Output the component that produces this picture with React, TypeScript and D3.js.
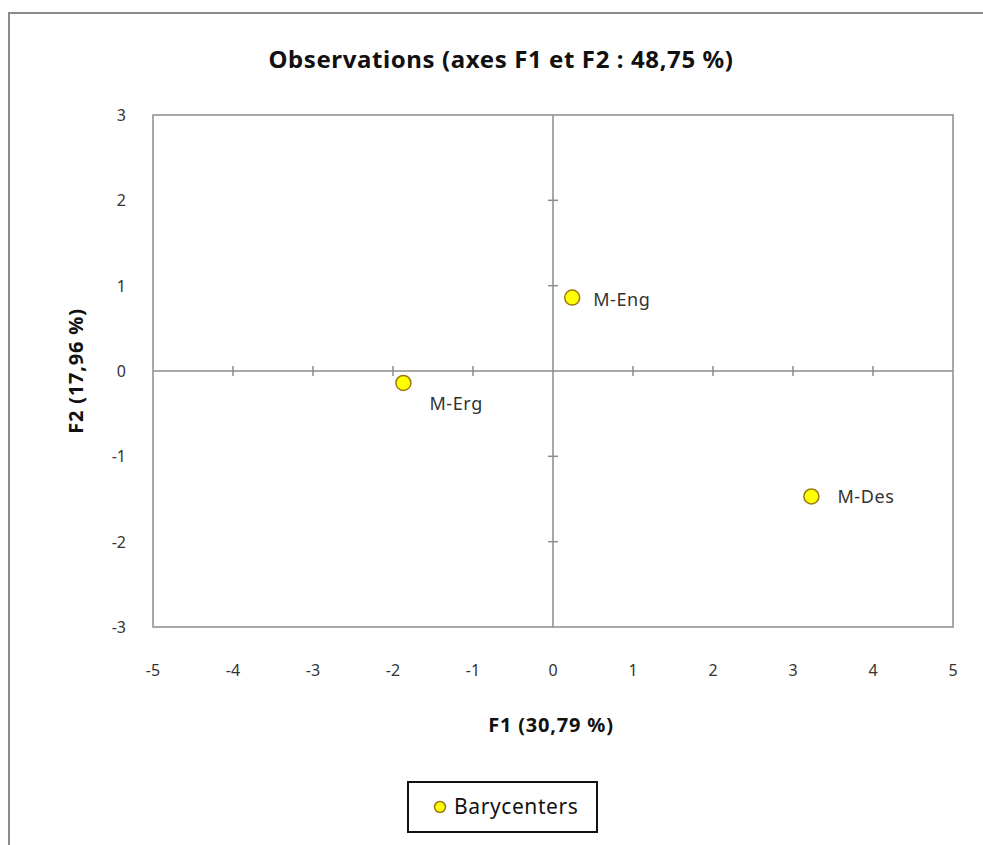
import React, { useEffect, useRef } from "react";
import * as d3 from "d3";

// observation barycenters on the first two factorial axes
const labels = ["M-Eng", "M-Erg", "M-Des"];
const f1Values = [0.24, -1.87, 3.23];
const f2Values = [0.86, -0.14, -1.47];
const xTicks = [-5, -4, -3, -2, -1, 0, 1, 2, 3, 4, 5];
const yTicks = [-3, -2, -1, 0, 1, 2, 3];

const labelOffsets = [
  { dx: 21, dy: 2 },
  { dx: 26, dy: 21 },
  { dx: 26, dy: 1 },
];

const App = () => {
  const svgRef = useRef<SVGSVGElement>(null);

  useEffect(() => {
    const width = 983;
    const height = 845;
    const font = "'Noto Sans', 'Open Sans', sans-serif";

    const svg = d3.select(svgRef.current);
    svg.selectAll("*").remove();

    const x = d3.scaleLinear().domain([-5, 5]).range([153, 953]);
    const y = d3.scaleLinear().domain([-3, 3]).range([627, 115]);

    svg.append("rect")
      .attr("width", width)
      .attr("height", height)
      .attr("fill", "#fff");

    // outer chart frame
    svg.append("rect")
      .attr("x", 9)
      .attr("y", 13)
      .attr("width", width + 20)
      .attr("height", height + 20)
      .attr("fill", "none")
      .attr("stroke", "#8c8c8c")
      .attr("stroke-width", 2);

    svg.append("text")
      .attr("x", 501)
      .attr("y", 68)
      .attr("text-anchor", "middle")
      .style("font", `bold 24px ${font}`)
      .style("letter-spacing", "0.6px")
      .attr("fill", "#111")
      .text("Observations (axes F1 et F2 : 48,75 %)");

    // plot area
    svg.append("rect")
      .attr("x", x(-5))
      .attr("y", y(3))
      .attr("width", x(5) - x(-5))
      .attr("height", y(-3) - y(3))
      .attr("fill", "none")
      .attr("stroke", "#8c8c8c")
      .attr("stroke-width", 1.5);

    // zero axes with crossing ticks
    const axisColor = "#8c8c8c";
    svg.append("line")
      .attr("x1", x(-5)).attr("x2", x(5))
      .attr("y1", y(0)).attr("y2", y(0))
      .attr("stroke", axisColor).attr("stroke-width", 1.5);
    svg.append("line")
      .attr("x1", x(0)).attr("x2", x(0))
      .attr("y1", y(3)).attr("y2", y(-3))
      .attr("stroke", axisColor).attr("stroke-width", 1.5);

    svg.selectAll(".xtick")
      .data(xTicks.filter(d => d !== 0 && Math.abs(d) !== 5))
      .enter().append("line")
      .attr("x1", d => x(d)).attr("x2", d => x(d))
      .attr("y1", y(0) - 5).attr("y2", y(0) + 5)
      .attr("stroke", axisColor).attr("stroke-width", 1.5);

    svg.selectAll(".ytick")
      .data(yTicks.filter(d => d !== 0 && Math.abs(d) !== 3))
      .enter().append("line")
      .attr("x1", x(0) - 5).attr("x2", x(0) + 5)
      .attr("y1", d => y(d)).attr("y2", d => y(d))
      .attr("stroke", axisColor).attr("stroke-width", 1.5);

    svg.selectAll(".xlabel")
      .data(xTicks)
      .enter().append("text")
      .attr("x", d => x(d))
      .attr("y", 676)
      .attr("text-anchor", "middle")
      .style("font", `16px ${font}`)
      .attr("fill", "#333")
      .text(d => d);

    svg.selectAll(".ylabel")
      .data(yTicks)
      .enter().append("text")
      .attr("x", 126)
      .attr("y", d => y(d) + 6)
      .attr("text-anchor", "end")
      .style("font", `16px ${font}`)
      .attr("fill", "#333")
      .text(d => d);

    svg.append("text")
      .attr("x", 551)
      .attr("y", 732)
      .attr("text-anchor", "middle")
      .style("font", `bold 20px ${font}`)
      .style("letter-spacing", "0.8px")
      .attr("fill", "#111")
      .text("F1 (30,79 %)");

    svg.append("text")
      .attr("transform", `translate(83,${y(0)}) rotate(-90)`)
      .attr("text-anchor", "middle")
      .style("font", `bold 20px ${font}`)
      .style("letter-spacing", "0.8px")
      .attr("fill", "#111")
      .text("F2 (17,96 %)");

    const points = labels.map((name, i) => ({ name, f1: f1Values[i], f2: f2Values[i], off: labelOffsets[i] }));

    svg.selectAll(".pt")
      .data(points)
      .enter().append("circle")
      .attr("cx", d => x(d.f1))
      .attr("cy", d => y(d.f2))
      .attr("r", 7.5)
      .attr("fill", "#ffff00")
      .attr("stroke", "#9c7a12")
      .attr("stroke-width", 1.5);

    svg.selectAll(".ptlabel")
      .data(points)
      .enter().append("text")
      .attr("x", d => x(d.f1) + d.off.dx)
      .attr("y", d => y(d.f2) + d.off.dy + 6)
      .style("font", `18px ${font}`)
      .style("letter-spacing", "0.6px")
      .attr("fill", "#333")
      .text(d => d.name);

    // legend
    svg.append("rect")
      .attr("x", 408)
      .attr("y", 782)
      .attr("width", 189)
      .attr("height", 50)
      .attr("fill", "#fff")
      .attr("stroke", "#111")
      .attr("stroke-width", 2);
    svg.append("circle")
      .attr("cx", 440)
      .attr("cy", 807)
      .attr("r", 5.5)
      .attr("fill", "#ffff00")
      .attr("stroke", "#9c7a12")
      .attr("stroke-width", 1.5);
    svg.append("text")
      .attr("x", 454)
      .attr("y", 814)
      .style("font", `21px ${font}`)
      .style("letter-spacing", "0.6px")
      .attr("fill", "#111")
      .text("Barycenters");
  }, []);

  return (
    <svg ref={svgRef} width="983" height="845" style={{ position: "absolute", left: 0, top: 0 }}></svg>
  );
};

export default App;
